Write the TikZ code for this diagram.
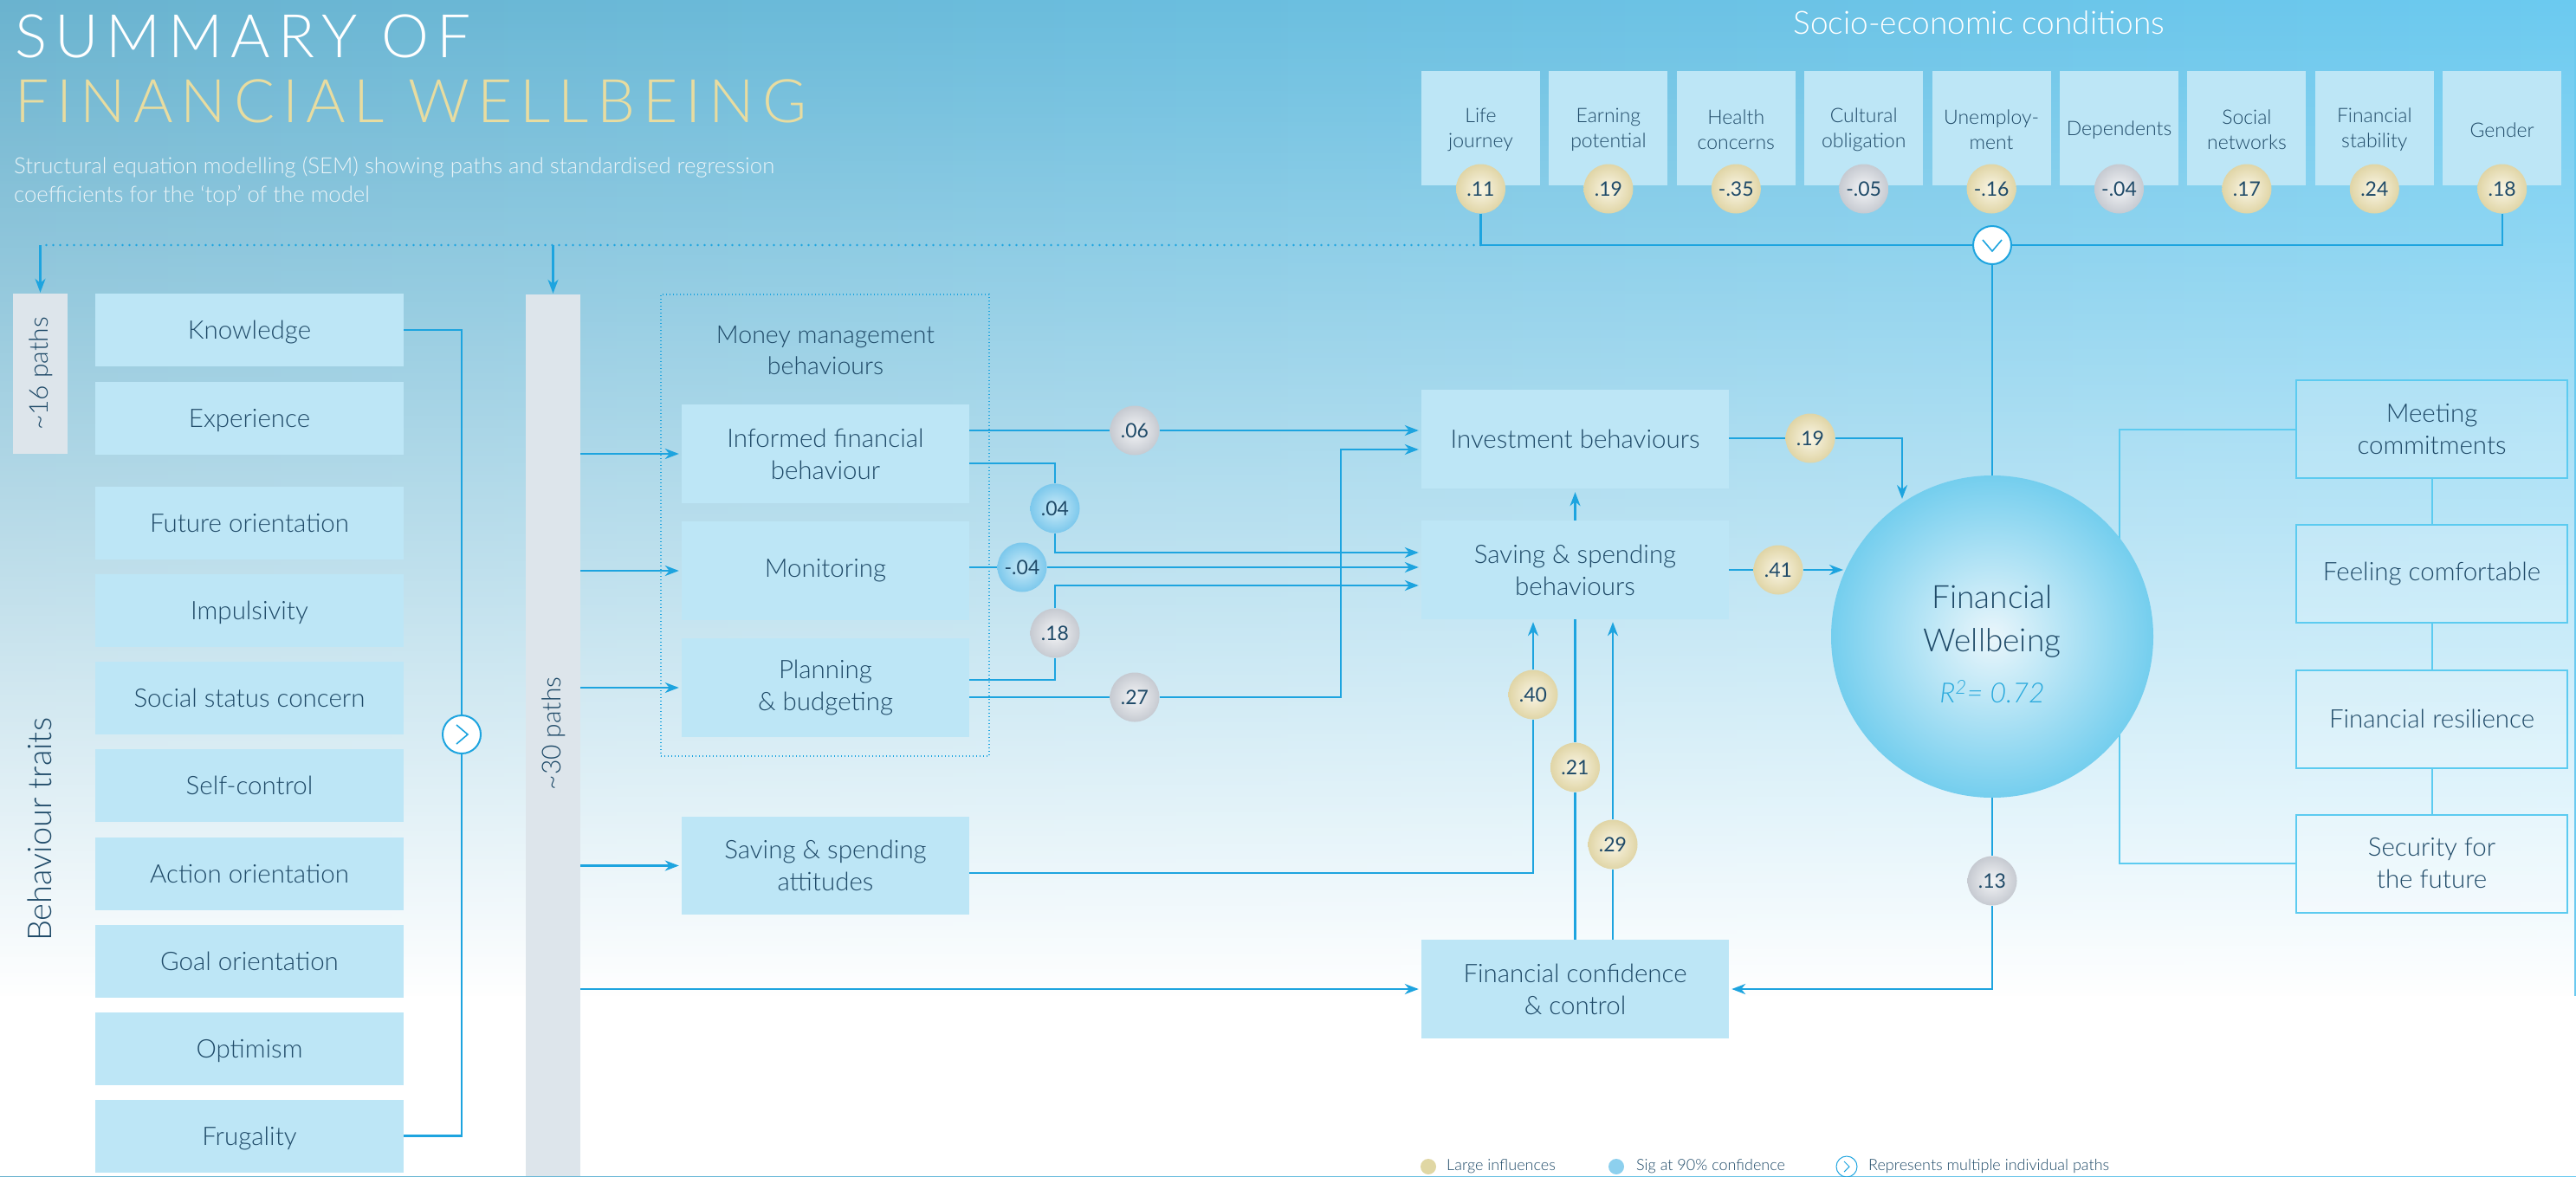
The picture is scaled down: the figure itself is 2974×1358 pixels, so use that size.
\documentclass[tikz,border=0pt]{standalone}
\usepackage{fontspec}
\usepackage{graphicx}
\setmainfont{Lato}
\newfontfamily\lightfont{Lato Light}
\usetikzlibrary{arrows.meta,fadings,calc}
\definecolor{bgA}{HTML}{6AB3CF}
\definecolor{bgB}{HTML}{6BCAF0}
\definecolor{txt}{HTML}{1F4A68}
\definecolor{lnk}{HTML}{1DA4DF}
\definecolor{boxc}{HTML}{BDE6F6}
\definecolor{barc}{HTML}{DDE5EB}
\definecolor{gold}{HTML}{E8DCA0}
\definecolor{rbord}{HTML}{5CCBF0}
\definecolor{gin}{HTML}{FAF6E6}
\definecolor{gout}{HTML}{E0D5A6}
\definecolor{sin}{HTML}{F4F5F7}
\definecolor{sout}{HTML}{C6CAD1}
\definecolor{bin}{HTML}{CBEBF8}
\definecolor{bout}{HTML}{7CC8EC}
\definecolor{fwin}{HTML}{EAF6FB}
\definecolor{fwout}{HTML}{74CEEE}
\definecolor{rcol}{HTML}{29A9DC}
\definecolor{subc}{HTML}{EAF4F8}
\definecolor{lgold}{HTML}{E0D7A4}
\definecolor{lblue}{HTML}{8DD0EE}
\tikzfading[name=fadedown, top color=transparent!100, bottom color=transparent!0]
\tikzset{
  lk/.style={draw=lnk, line width=2.3pt},
  ar/.style={lk, -{Stealth[length=16pt,width=12pt,inset=5pt]}, shorten >=3pt},
  dotl/.style={draw=lnk, line width=2.6pt, line cap=round, dash pattern=on 0pt off 8pt},
  mmbox/.style={draw=lnk, line width=1.3pt, dash pattern=on 1.3pt off 2.7pt},
  rl/.style={draw=rbord, line width=2pt},
  fbox/.style={fill=boxc, text=txt, inner sep=0pt, align=center, font=\lightfont\fontsize{29.5}{37}\selectfont},
  trait/.style={fbox, minimum width=356pt, minimum height=84pt, text height=21pt, text depth=0pt},
  mbox/.style={fbox, minimum width=332pt, minimum height=114pt},
  cbox/.style={fbox, minimum width=355pt, minimum height=114pt},
  sbox/.style={fill=boxc, minimum width=137pt, minimum height=132pt, inner sep=0pt},
  slab/.style={text=txt, align=center, inner sep=0pt, font=\lightfont\fontsize{23}{29}\selectfont},
  rbox/.style={draw=rbord, line width=2pt, fill=white, fill opacity=0.15, text opacity=1, text=txt, align=center, minimum width=313pt, minimum height=113pt, inner sep=0pt, font=\lightfont\fontsize{29.5}{37}\selectfont},
  gbar/.style={fill=barc, inner sep=0pt},
  badge/.style={circle, minimum size=57pt, inner sep=0pt, text=txt, font=\fontsize{23}{23}\selectfont},
  goldb/.style={badge, inner color=gin, outer color=gout},
  grayb/.style={badge, inner color=sin, outer color=sout},
  blueb/.style={badge, inner color=bin, outer color=bout},
  chev/.style={circle, draw=lnk, line width=2pt, fill=white, minimum size=44pt, inner sep=0pt},
  chl/.style={draw=lnk, line width=1.6pt, line join=miter},
  bigt/.style={text=txt, inner sep=0pt, font=\lightfont\fontsize{30}{30}\selectfont},
  legt/.style={text=txt, inner sep=0pt, anchor=west, font=\lightfont\fontsize{18}{18}\selectfont},
}
\begin{document}
\begin{tikzpicture}[x=1pt,y=-1pt]
\useasboundingbox (0,0) rectangle (2974,1358);
% background
\shade[left color=bgA, right color=bgB] (0,0) rectangle (2974,1358);
\fill[white, path fading=fadedown] (0,0) rectangle (2974,1150);
\fill[white] (0,1150) rectangle (2974,1358);

% titles
\node[anchor=base west, inner sep=0pt, text=white] (title1) at (17,66)
  {\resizebox{526pt}{!}{\lightfont\fontsize{67}{67}\selectfont\addfontfeatures{LetterSpace=13}SUMMARY OF}};
\node[anchor=base west, inner sep=0pt, text=gold] (title2) at (17,141)
  {\resizebox{914pt}{!}{\lightfont\fontsize{67}{67}\selectfont\addfontfeatures{LetterSpace=13}FINANCIAL WELLBEING}};
\node[anchor=base west, inner sep=0pt, text=subc, font=\lightfont\fontsize{25.7}{25.7}\selectfont] (sub1) at (16,200)
  {Structural equation modelling (SEM) showing paths and standardised regression};
\node[anchor=base west, inner sep=0pt, text=subc, font=\lightfont\fontsize{25.7}{25.7}\selectfont] (sub2) at (16,233)
  {coefficients for the ‘top’ of the model};
\node[anchor=base, inner sep=0pt, text=white, font=\lightfont\fontsize{37}{37}\selectfont] (sectitle) at (2285,39)
  {Socio-economic conditions};

% socio-economic boxes
\foreach \k/\nm/\lab/\val/\ic/\oc in {0/lj/{Life\\journey}/.11/gin/gout,1/ep/{Earning\\potential}/.19/gin/gout,2/hc/{Health\\concerns}/-.35/gin/gout,3/co/{Cultural\\obligation}/-.05/sin/sout,4/un/{Unemploy-\\ment}/-.16/gin/gout,5/de/{Dependents}/-.04/sin/sout,6/sn/{Social\\networks}/.17/gin/gout,7/fs/{Financial\\stability}/.24/gin/gout,8/ge/{Gender}/.18/gin/gout}{
  \pgfmathsetmacro\cx{1709.5+147.4*\k}
  \node[sbox] (s\nm) at (\cx,148) {};
  \node[slab] (l\nm) at (\cx,150) {\lab};
  \node[badge, inner color=\ic, outer color=\oc] (b\nm) at (\cx,218) {\val};
}

% grey bars
\node[gbar, minimum width=63pt, minimum height=185pt] (p16) at (46.5,431.5) {};
\node[bigt, rotate=90] (p16t) at (47,431.5) {\textasciitilde16 paths};
\node[gbar, minimum width=63pt, minimum height=1018pt] (p30) at (638.5,849) {};
\node[bigt, rotate=90] (p30t) at (639,847) {\textasciitilde30 paths};
\node[text=txt, inner sep=0pt, rotate=90, font=\lightfont\fontsize{38}{38}\selectfont] (bt) at (46,958) {Behaviour traits};

% trait boxes
\node[trait] (kn) at (288,381) {Knowledge};
\node[trait] (ex) at (288,483) {Experience};
\node[trait] (fo) at (288,604) {Future orientation};
\node[trait] (im) at (288,705) {Impulsivity};
\node[trait] (ss) at (288,806) {Social status concern};
\node[trait] (sc) at (288,907) {Self-control};
\node[trait] (ao) at (288,1009) {Action orientation};
\node[trait] (go) at (288,1110) {Goal orientation};
\node[trait] (op) at (288,1211) {Optimism};
\node[trait] (fr) at (288,1311.5) {Frugality};

% money management group
\node[mmbox, minimum width=379pt, minimum height=533pt, inner sep=0pt] (mm) at (952.5,606.5) {};
\node[text=txt, align=center, inner sep=0pt, font=\lightfont\fontsize{28.5}{36}\selectfont] (mmt) at (953,405) {Money management\\behaviours};
\node[mbox] (if) at (953,524) {Informed financial\\behaviour};
\node[mbox] (mo) at (953,659) {Monitoring};
\node[mbox] (pb) at (953,794) {Planning\\\& budgeting};
\node[mbox, minimum height=113pt] (ssa) at (953,999.5) {Saving \& spending\\attitudes};

% middle column
\node[cbox] (ib) at (1818.5,507) {Investment behaviours};
\node[cbox] (ssb) at (1818.5,658) {Saving \& spending\\behaviours};
\node[cbox] (fc) at (1818.5,1142) {Financial confidence\\\& control};

% outcome boxes
\node[rbox] (mc) at (2807.5,495.5) {Meeting\\commitments};
\node[rbox] (fcm) at (2807.5,662.5) {Feeling comfortable};
\node[rbox] (frs) at (2807.5,830) {Financial resilience};
\node[rbox] (sf) at (2807.5,997) {Security for\\the future};
\coordinate (rk) at (2447,0);
\draw[rl] (mc.west) -| (rk |- sf.west) -- (sf.west);
\draw[rl] (mc.south) -- (fcm.north);
\draw[rl] (fcm.south) -- (frs.north);
\draw[rl] (frs.south) -- (sf.north);

% financial wellbeing circle
\node[circle, minimum size=372pt, inner sep=0pt, inner color=fwin, outer color=fwout] (fw) at (2300,735) {};
\node[anchor=base, text=txt, inner sep=0pt, font=\lightfont\fontsize{37}{37}\selectfont] (fwt1) at (2300,702) {Financial};
\node[anchor=base, text=txt, inner sep=0pt, font=\lightfont\fontsize{37}{37}\selectfont] (fwt2) at (2300,752) {Wellbeing};
\node[anchor=base, text=rcol, inner sep=0pt, font=\lightfont\fontsize{32}{32}\selectfont\itshape] (fwt3) at (2300,811) {R\textsuperscript{2}= 0.72};

% chevron circles
\node[chev] (ch1) at (533,848) {};
\draw[chl] ($(ch1)+(-6,-11)$) -- ($(ch1)+(7,0)$) -- ($(ch1)+(-6,11)$);
\node[chev] (ch2) at (2300,283) {};
\draw[chl] ($(ch2)+(-11,-6)$) -- ($(ch2)+(0,7)$) -- ($(ch2)+(11,-6)$);

% coefficient badges
\node[grayb] (b06) at (1310,497) {.06};
\node[blueb] (b04) at (1218,587) {.04};
\node[blueb] (bm04) at (1180,655) {-.04};
\node[grayb] (b18) at (1218,731) {.18};
\node[grayb] (b27) at (1310,805) {.27};
\node[goldb] (b40) at (1770,802) {.40};
\node[goldb] (b21) at (1818.5,886) {.21};
\node[goldb] (b29) at (1862,975) {.29};
\node[goldb] (b19) at (2090,506) {.19};
\node[goldb] (b41) at (2053,658) {.41};
\node[grayb] (b13) at (2300,1017) {.13};

% socio-economic connectors
\coordinate (dj) at (blj.south |- ch2);
\draw[lk] (blj.south) |- (ch2.west);
\draw[lk] (bge.south) |- (ch2.east);
\draw[lk] (ch2.south) -- (fw.north);
\draw[dotl] (dj) -- (dj -| p16.north);
\draw[ar, shorten >=1pt] (dj -| p16.north) -- (p16.north);
\draw[ar, shorten >=1pt] (dj -| p30.north) -- (p30.north);

% traits bracket
\draw[lk] (kn.east) -| (ch1.north);
\draw[lk] (fr.east) -| (ch1.south);

% from ~30 paths
\draw[ar] (p30.east |- if.west) -- (if.west);
\draw[ar] (p30.east |- mo.west) -- (mo.west);
\draw[ar] (p30.east |- pb.west) -- (pb.west);
\draw[ar] (p30.east |- ssa.west) -- (ssa.west);
\draw[ar] (p30.east |- fc.west) -- (fc.west);

% money management to investment / saving
\draw[lk] (if.east |- b06) -- (b06.west);
\draw[ar] (b06.east) -- (ib.west |- b06);
\coordinate (k27) at (1548,805);
\draw[lk] (pb.east |- b27) -- (b27.west);
\draw[ar] (b27.east) -- (k27) |- (ib.west |- 0,519);
\draw[lk] (if.east |- 0,535) -| (b04.north);
\draw[ar] (b04.south) |- (ssb.west |- 0,638);
\draw[lk] (mo.east |- bm04) -- (bm04.west);
\draw[ar] (bm04.east) -- (ssb.west |- bm04);
\draw[lk] (pb.east |- 0,785) -| (b18.south);
\draw[ar] (b18.north) |- (ssb.west |- 0,676);

% middle verticals
\draw[ar, shorten >=4pt] (ssb.north) -- (ib.south);
\draw[lk] (ssa.east |- 0,1008) -| (b40.south);
\draw[ar] (b40.north) -- (b40.north |- ssb.south);
\draw[lk] (ssb.south) -- (b21.north);
\draw[lk] (b21.south) -- (fc.north);
\draw[lk] (fc.north -| b29) -- (b29.south);
\draw[ar] (b29.north) -- (b29.north |- ssb.south);

% to and from financial wellbeing
\coordinate (t19) at (2196,579);
\draw[lk] (ib.east |- b19) -- (b19.west);
\draw[ar] (b19.east) -| (t19);
\coordinate (t41) at (2131,658);
\draw[lk] (ssb.east |- b41) -- (b41.west);
\draw[ar] (b41.east) -- (t41);
\draw[lk] (fw.south) -- (b13.north);
\draw[ar] (b13.south) |- (fc.east);

% legend
\node[circle, fill=lgold, minimum size=18pt, inner sep=0pt] (lg1) at (1649,1347) {};
\node[legt] (lg1t) at (1670,1347) {Large influences};
\node[circle, fill=lblue, minimum size=18pt, inner sep=0pt] (lg2) at (1866,1347) {};
\node[legt] (lg2t) at (1889,1347) {Sig at 90\% confidence};
\node[circle, draw=lnk, line width=1pt, minimum size=24pt, inner sep=0pt] (lg3) at (2132,1347) {};
\draw[draw=lnk, line width=1pt] ($(lg3)+(-3,-6)$) -- ($(lg3)+(3,0)$) -- ($(lg3)+(-3,6)$);
\node[legt] (lg3t) at (2157,1347) {Represents multiple individual paths};
\end{tikzpicture}
\end{document}
